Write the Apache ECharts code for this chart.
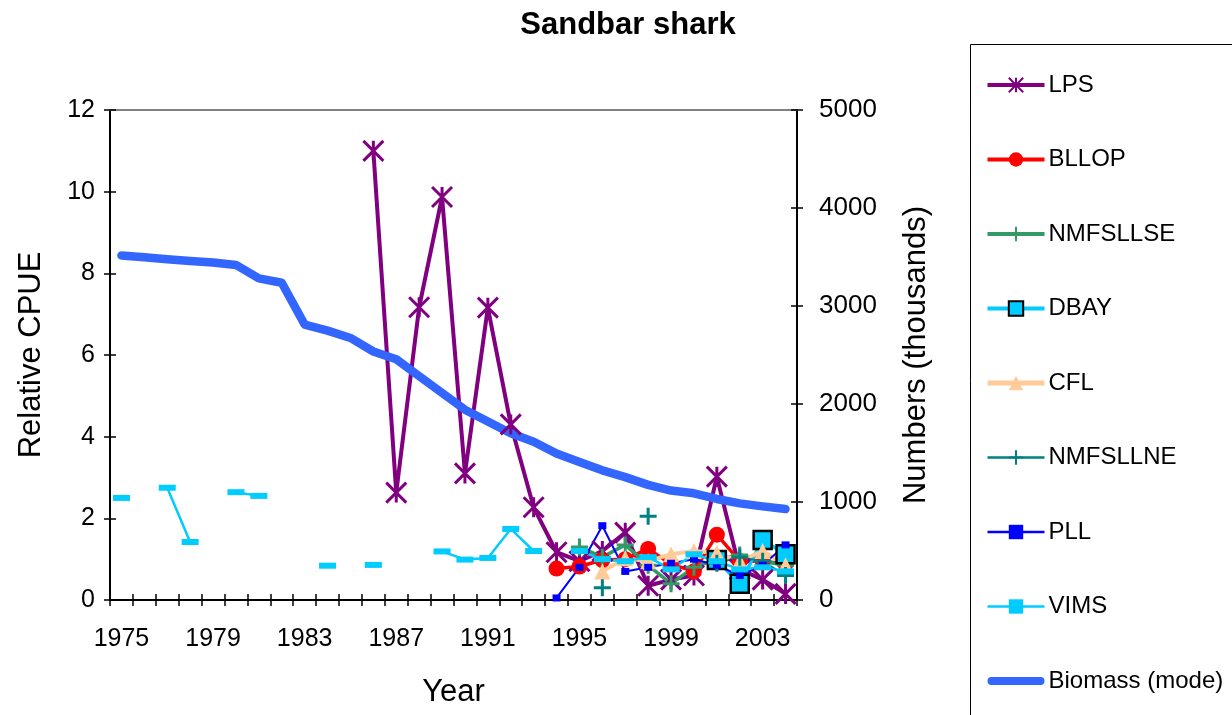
<!DOCTYPE html>
<html><head><meta charset="utf-8">
<script src="https://cdn.jsdelivr.net/npm/echarts@6/dist/echarts.min.js"></script>
<style>html,body{margin:0;padding:0;background:#fff}#c{width:1232px;height:715px}</style>
</head><body><div id="c"></div>
<script>
const years = [];
for (let y = 1975; y <= 2004; y++) years.push(String(y));
const n = null;
//            1975 76 77 78 79 80 81 82 83 84 85 86 87 88 89 90 91 92 93 94 95 96 97 98 99 2000 01 02 03 04
const LPS      = [n,n,n,n,n,n,n,n,n,n,n,11.0,2.63,7.17,9.87,3.1,7.16,4.3,2.27,1.17,0.95,1.2,1.65,0.35,0.5,0.6,3.02,0.75,0.5,0.15];
const BLLOP    = [n,n,n,n,n,n,n,n,n,n,n,n,n,n,n,n,n,n,n,0.77,0.82,0.98,1.0,1.25,0.88,0.7,1.6,0.95,0.95,0.88];
const NMFSLLSE = [n,n,n,n,n,n,n,n,n,n,n,n,n,n,n,n,n,n,n,n,1.3,1.05,1.35,0.85,0.4,0.8,1.0,1.1,0.95,0.85];
const DBAY     = [n,n,n,n,n,n,n,n,n,n,n,n,n,n,n,n,n,n,n,n,n,n,n,n,n,n,0.98,0.4,1.47,1.12];
const CFL      = [n,n,n,n,n,n,n,n,n,n,n,n,n,n,n,n,n,n,n,n,n,0.7,1.02,0.95,1.12,1.2,1.15,0.95,1.2,0.85];
const NMFSLLNE = [n,n,n,n,n,n,n,n,n,n,n,n,n,n,n,n,n,n,n,n,n,0.3,n,2.05,n,n,0.9,1.05,0.95,0.6];
const PLL      = [n,n,n,n,n,n,n,n,n,n,n,n,n,n,n,n,n,n,n,0.05,0.8,1.82,0.7,0.8,0.9,1.0,0.85,0.6,0.85,1.35];
const VIMS     = [2.5,n,2.75,1.42,n,2.64,2.55,n,n,0.84,n,0.86,n,n,1.19,0.99,1.03,1.74,1.2,n,1.2,1.0,0.95,1.05,0.75,1.12,0.95,0.75,0.8,0.7];
const Biomass  = [3515,3498,3478,3460,3443,3419,3282,3237,2811,2749,2674,2536,2457,2285,2113,1942,1821,1701,1615,1495,1409,1323,1254,1175,1117,1089,1031,986,955,928];
const leftTicks = [0, 12, 2];
const rightTicks = [0, 5000, 1000];

const FONT = '"Liberation Sans", Arial, sans-serif';
const asterisk = 'path://M0,-10L0,10M-10,-10L10,10M-10,10L10,-10';
const plus = 'path://M0,-10L0,10M-10,0L10,0';
const pill = 'path://M4,0H53A4,4,0,0,1,53,8H4A4,4,0,0,1,4,0Z';

function line(name, data, color, width, symbol, size, extra) {
  return Object.assign({
    name, type: 'line', data, xAxisIndex: 0, yAxisIndex: 0,
    symbol, symbolSize: size, showAllSymbol: true, connectNulls: false,
    lineStyle: { color, width },
    itemStyle: { color },
    emphasis: { disabled: true },
    animation: false
  }, extra || {});
}

const tickStyle = { color: '#000', width: 1.5 };
const chart = echarts.init(document.getElementById('c'), null, { renderer: 'canvas' });
chart.setOption({
  animation: false,
  textStyle: { fontFamily: FONT },
  title: {
    text: 'Sandbar shark', left: 623, top: 5, textAlign: 'center',
    textStyle: { fontFamily: FONT, fontSize: 31, fontWeight: 'bold', color: '#000' }
  },
  grid: { left: 110, right: 435, top: 110, bottom: 115, containLabel: false },
  graphic: [{
    type: 'rect', left: 968, top: 42,
    shape: { width: 270, height: 690 },
    style: { fill: 'none', stroke: '#000', lineWidth: 1 }
  }],
  legend: {
    orient: 'vertical', left: 980, top: 68,
    itemWidth: 57, itemHeight: 18, itemGap: 50.5,
    textStyle: { fontFamily: FONT, fontSize: 24, color: '#000', padding: [0, 0, 0, -1] },
    data: [
      { name: 'LPS', lineStyle: { width: 4 } },
      { name: 'BLLOP', lineStyle: { width: 4 } },
      { name: 'NMFSLLSE', lineStyle: { width: 4 } },
      { name: 'DBAY', lineStyle: { width: 4 } },
      { name: 'CFL', lineStyle: { width: 5 } },
      { name: 'NMFSLLNE', lineStyle: { width: 2.5 } },
      { name: 'PLL', lineStyle: { width: 2.5 } },
      { name: 'VIMS', lineStyle: { width: 2.5 } },
      { name: 'Biomass (mode)', icon: pill }
    ]
  },
  xAxis: [
    { type: 'category', data: years, position: 'bottom', boundaryGap: true,
      name: 'Year', nameLocation: 'middle', nameGap: 77,
      nameTextStyle: { fontFamily: FONT, fontSize: 31, color: '#000' },
      axisLine: { onZero: false, lineStyle: { color: '#000', width: 2 } },
      axisTick: { show: true, inside: false, length: 6, interval: 0, lineStyle: tickStyle },
      axisLabel: { interval: 3, margin: 27, fontFamily: FONT, fontSize: 25, color: '#000' },
      splitLine: { show: false } },
    { type: 'category', data: years, position: 'top', boundaryGap: true,
      axisLine: { show: true, onZero: false, lineStyle: { color: '#808080', width: 2 } },
      axisTick: { show: false }, axisLabel: { show: false }, splitLine: { show: false } },
    { type: 'category', data: years, position: 'bottom', boundaryGap: true,
      axisLine: { show: false, onZero: false },
      axisTick: { show: true, inside: true, length: 6, interval: 0, lineStyle: tickStyle },
      axisLabel: { show: false }, splitLine: { show: false } }
  ],
  yAxis: [
    { type: 'value', position: 'left', min: leftTicks[0], max: leftTicks[1], interval: leftTicks[2],
      name: 'Relative CPUE', nameLocation: 'middle', nameGap: 63, nameRotate: 90,
      nameTextStyle: { fontFamily: FONT, fontSize: 31, color: '#000' },
      axisLine: { show: true, onZero: false, lineStyle: { color: '#000', width: 2 } },
      axisTick: { show: true, length: 6, lineStyle: tickStyle },
      axisLabel: { margin: 15, fontFamily: FONT, fontSize: 25, color: '#000' },
      splitLine: { show: false } },
    { type: 'value', position: 'right', min: rightTicks[0], max: rightTicks[1], interval: rightTicks[2],
      name: 'Numbers (thousands)', nameLocation: 'middle', nameGap: 104, nameRotate: 90,
      nameTextStyle: { fontFamily: FONT, fontSize: 31, color: '#000' },
      axisLine: { show: true, onZero: false, lineStyle: { color: '#000', width: 2 } },
      axisTick: { show: true, length: 6, lineStyle: tickStyle },
      axisLabel: { margin: 22, fontFamily: FONT, fontSize: 26, color: '#000', formatter: v => String(v) },
      splitLine: { show: false } },
    { type: 'value', position: 'left', min: leftTicks[0], max: leftTicks[1], interval: leftTicks[2],
      axisLine: { show: false },
      axisTick: { show: true, inside: true, length: 6, lineStyle: tickStyle },
      axisLabel: { show: false }, splitLine: { show: false } },
    { type: 'value', position: 'right', min: rightTicks[0], max: rightTicks[1], interval: rightTicks[2],
      axisLine: { show: false },
      axisTick: { show: true, inside: true, length: 6, lineStyle: tickStyle },
      axisLabel: { show: false }, splitLine: { show: false } }
  ],
  series: [
    line('LPS', LPS, '#800080', 4, asterisk, 20, { itemStyle: { color: '#800080', borderColor: '#800080', borderWidth: 3 } }),
    line('BLLOP', BLLOP, '#FF0000', 3.5, 'circle', 16),
    line('NMFSLLSE', NMFSLLSE, '#339966', 3.5, plus, 17, { itemStyle: { color: '#339966', borderColor: '#339966', borderWidth: 3 } }),
    line('DBAY', DBAY, '#00CCFF', 3.5, 'rect', 18, { itemStyle: { color: '#00CCFF', borderColor: '#000', borderWidth: 2.5 } }),
    line('CFL', CFL, '#FFCC99', 4, 'triangle', 16),
    line('NMFSLLNE', NMFSLLNE, '#008080', 2, plus, 17, { itemStyle: { color: '#008080', borderColor: '#008080', borderWidth: 3 } }),
    line('PLL', PLL, '#0000FF', 2, 'rect', [8, 7]),
    line('VIMS', VIMS, '#00CCFF', 2.5, 'rect', [17, 6]),
    line('Biomass (mode)', Biomass, '#3366FF', 8, 'none', 0, { yAxisIndex: 1, lineStyle: { color: '#3366FF', width: 8.5, cap: 'round', join: 'round' } })
  ]
});
</script>
</body></html>
